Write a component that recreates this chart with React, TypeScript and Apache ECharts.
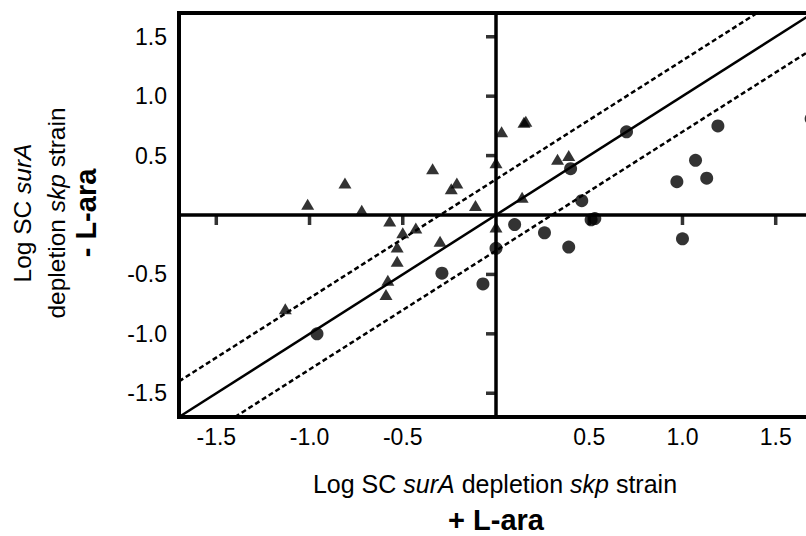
import { useEffect, useRef } from "react";
import * as echarts from "echarts";

// Tick positions and labels (both axes share them)
const tickValues = [-1.5, -1.0, -0.5, 0.5, 1.0, 1.5];
const tickLabels = ["-1.5", "-1.0", "-0.5", "0.5", "1.0", "1.5"];

// Triangles
const triangleX = [-1.01, -0.81, -0.72, -0.34, -0.21, -0.24, -0.11, 0.0, 0.03, 0.15, 0.16, 0.33, 0.39, 0.14, -0.57, -0.5, -0.43, -0.53, -0.53, -0.3, -0.58, -0.59, -1.13, 0.0];
const triangleY = [0.09, 0.27, 0.04, 0.39, 0.27, 0.22, 0.08, 0.44, 0.7, 0.78, 0.79, 0.47, 0.5, 0.15, -0.05, -0.15, -0.11, -0.27, -0.39, -0.22, -0.55, -0.67, -0.79, -0.1];

// Circles
const circleX = [0.7, 1.19, 1.07, 0.97, 1.13, 0.4, 0.46, 0.1, 0.26, 0.39, 1.0, 0.53, 0.51, 0.0, -0.29, -0.07, -0.96, 1.69];
const circleY = [0.7, 0.75, 0.46, 0.28, 0.31, 0.39, 0.12, -0.08, -0.15, -0.27, -0.2, -0.03, -0.04, -0.28, -0.49, -0.58, -1.0, 0.81];

// Reference lines: identity and +/- log10(2)
const identityX = [-1.7, 1.7];
const identityY = [-1.7, 1.7];
const upperX = [-1.7, 1.4];
const upperY = [-1.4, 1.7];
const lowerX = [-1.4, 1.7];
const lowerY = [-1.7, 1.4];

const AXIS_MIN = -1.7;
const AXIS_MAX = 1.7;

const FONT = "'Liberation Sans', Arial, Helvetica, sans-serif";

const zip = (xs: number[], ys: number[]) => xs.map((x, i) => [x, ys[i]]);
const fmt = (v: number) => {
  const i = tickValues.findIndex((t) => Math.abs(t - v) < 1e-9);
  return i >= 0 ? tickLabels[i] : "";
};

export default function App() {
  const ref = useRef<HTMLDivElement>(null);

  useEffect(() => {
    if (!ref.current) return;
    const chart = echarts.init(ref.current, undefined, { renderer: "svg" });

    const labelStyle = { color: "#000", fontSize: 23, fontFamily: FONT };
    const richX = {
      a: { fontSize: 25, fontFamily: FONT, color: "#000" },
      i: { fontSize: 25, fontFamily: FONT, fontStyle: "italic", color: "#000" },
    };
    const richY = {
      a: { fontSize: 24.5, fontFamily: FONT, color: "#000" },
      i: { fontSize: 24.5, fontFamily: FONT, fontStyle: "italic", color: "#000" },
    };

    chart.setOption({
      animation: false,
      grid: {
        left: 179,
        top: 13,
        width: 634,
        height: 404,
        show: true,
        borderWidth: 4,
        borderColor: "#000",
        backgroundColor: "transparent",
        containLabel: false,
      },
      xAxis: [
        {
          type: "value",
          min: AXIS_MIN,
          max: AXIS_MAX,
          position: "bottom",
          axisLine: { show: false, onZero: false },
          axisTick: { show: false },
          splitLine: { show: false },
          axisLabel: { ...labelStyle, margin: 8, customValues: tickValues, formatter: fmt },
        },
        {
          type: "value",
          min: AXIS_MIN,
          max: AXIS_MAX,
          position: "bottom",
          axisLine: { show: true, onZero: true, onZeroAxisIndex: 0, lineStyle: { color: "#000", width: 3.5 } },
          axisTick: { show: false },
          splitLine: { show: false },
          axisLabel: { show: false },
        },
      ],
      yAxis: [
        {
          type: "value",
          min: AXIS_MIN,
          max: AXIS_MAX,
          position: "left",
          axisLine: { show: false, onZero: false },
          axisTick: { show: false },
          splitLine: { show: false },
          axisLabel: { ...labelStyle, margin: 12, customValues: tickValues, formatter: fmt },
        },
        {
          type: "value",
          min: AXIS_MIN,
          max: AXIS_MAX,
          position: "left",
          axisLine: { show: true, onZero: true, onZeroAxisIndex: 0, lineStyle: { color: "#000", width: 3.5 } },
          axisTick: { show: false },
          splitLine: { show: false },
          axisLabel: { show: false },
        },
      ],
      series: [
        {
          type: "line",
          data: zip(identityX, identityY),
          symbol: "none",
          lineStyle: { color: "#000", width: 2.5 },
          z: 2,
        },
        {
          type: "line",
          data: zip(upperX, upperY),
          symbol: "none",
          lineStyle: { color: "#000", width: 2.5, type: [5, 3] },
          z: 2,
        },
        {
          type: "line",
          data: zip(lowerX, lowerY),
          symbol: "none",
          lineStyle: { color: "#000", width: 2.5, type: [5, 3] },
          z: 2,
        },
        // tick marks hanging below the horizontal zero axis
        {
          type: "scatter",
          data: tickValues.map((v) => [v, 0]),
          symbol: "rect",
          symbolSize: [3.5, 10],
          symbolOffset: [0, 5],
          itemStyle: { color: "#000" },
          silent: true,
          z: 3,
        },
        // tick marks left of the vertical zero axis
        {
          type: "scatter",
          data: tickValues.map((v) => [0, v]),
          symbol: "rect",
          symbolSize: [10, 3.5],
          symbolOffset: [-5, 0],
          itemStyle: { color: "#000" },
          silent: true,
          z: 3,
        },
        {
          type: "scatter",
          data: zip(triangleX, triangleY),
          symbol: "triangle",
          symbolSize: [13, 11],
          itemStyle: { color: "#000" },
          z: 5,
        },
        {
          type: "scatter",
          data: zip(circleX, circleY),
          symbol: "circle",
          symbolSize: 13,
          itemStyle: { color: "#000" },
          z: 5,
        },
      ],
      graphic: [
        {
          type: "text",
          x: 495,
          y: 484,
          style: {
            text: "{a|Log SC }{i|surA}{a| depletion }{i|skp}{a| strain}",
            rich: richX,
            align: "center",
            verticalAlign: "middle",
            fill: "#000",
          },
        },
        {
          type: "text",
          x: 496,
          y: 520,
          style: {
            text: "+ L-ara",
            fontSize: 29,
            fontWeight: "bold",
            fontFamily: FONT,
            align: "center",
            verticalAlign: "middle",
            fill: "#000",
          },
        },
        {
          type: "text",
          x: 22,
          y: 213,
          rotation: Math.PI / 2,
          style: {
            text: "{a|Log SC }{i|surA}",
            rich: richY,
            align: "center",
            verticalAlign: "middle",
            fill: "#000",
          },
        },
        {
          type: "text",
          x: 56,
          y: 213,
          rotation: Math.PI / 2,
          style: {
            text: "{a|depletion }{i|skp}{a| strain}",
            rich: richY,
            align: "center",
            verticalAlign: "middle",
            fill: "#000",
          },
        },
        {
          type: "text",
          x: 86,
          y: 213,
          rotation: Math.PI / 2,
          style: {
            text: "- L-ara",
            fontSize: 29,
            fontWeight: "bold",
            fontFamily: FONT,
            align: "center",
            verticalAlign: "middle",
            fill: "#000",
          },
        },
      ],
    });

    return () => chart.dispose();
  }, []);

  return (
    <div
      ref={ref}
      style={{ position: "fixed", left: 0, top: 0, width: 830, height: 536, background: "#fff" }}
    />
  );
}
